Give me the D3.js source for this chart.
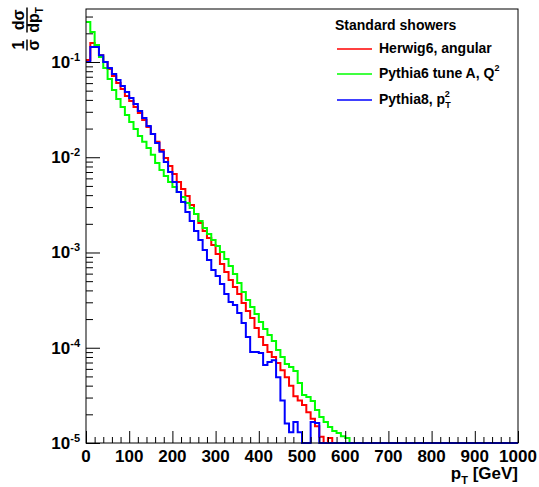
<!DOCTYPE html>
<html>
<head>
<meta charset="utf-8">
<script src="https://cdn.jsdelivr.net/npm/d3@7"></script>
<style>
  body { margin: 0; background: #fff; }
  svg { display: block; }
  text { font-family: "Liberation Sans", Arial, Helvetica, sans-serif; font-weight: bold; fill: #000; }
</style>
</head>
<body>
<svg id="chart" width="539" height="487"></svg>
<script>
// histogram binning (GeV)
const ptMin = 0, ptMax = 1000, binWidth = 10;

// 1/sigma dsigma/dpT per 10 GeV bin, bins after the listed ones are empty
const herwig = [0.105, 0.158, 0.151, 0.118, 0.100, 0.0845, 0.0713, 0.0602, 0.0521, 0.044,
  0.039, 0.0337, 0.0291, 0.0246, 0.0208, 0.0175, 0.0145, 0.0119, 0.00983, 0.00809,
  0.00667, 0.0055, 0.00464, 0.00392, 0.00315, 0.00254, 0.00204, 0.00168, 0.00142, 0.0012,
  0.000964, 0.000757, 0.000624, 0.000514, 0.000434, 0.000367, 0.000295, 0.000243, 0.000205, 0.000161,
  0.00013, 0.000107, 9.0e-5, 8.0e-5, 6.9e-5, 5.8e-5, 4.9e-5, 4.0e-5, 3.1e-5, 2.8e-5,
  2.5e-5, 2.1e-5, 1.8e-5, 1.5e-5, 1.16e-5, 0, 1.13e-5];

const pythia6 = [0.263, 0.207, 0.151, 0.113, 0.0865, 0.0663, 0.0508, 0.0409, 0.0337, 0.0278,
  0.0234, 0.0198, 0.0167, 0.0145, 0.0125, 0.0106, 0.0087, 0.00735, 0.00635, 0.0055,
  0.00487, 0.00432, 0.00383, 0.00331, 0.00293, 0.00254, 0.00214, 0.00181, 0.00156, 0.00135,
  0.00117, 0.00101, 0.000855, 0.000721, 0.000595, 0.000479, 0.000385, 0.000317, 0.000268, 0.000226,
  0.000186, 0.000157, 0.000136, 0.000118, 9.47e-5, 8.0e-5, 6.75e-5, 6.28e-5, 5.7e-5, 4.27e-5,
  3.19e-5, 3.04e-5, 2.76e-5, 2.22e-5, 1.87e-5, 1.66e-5, 1.47e-5, 1.34e-5, 1.27e-5, 1.18e-5,
  1.13e-5];

const pythia8 = [0.1, 0.144, 0.144, 0.118, 0.1, 0.0865, 0.0748, 0.0647, 0.056, 0.0484,
  0.0419, 0.0362, 0.0306, 0.0258, 0.0213, 0.0175, 0.0141, 0.0114, 0.00891, 0.0070,
  0.0055, 0.00432, 0.00339, 0.00266, 0.00214, 0.00168, 0.00135, 0.00106, 0.000834, 0.000655,
  0.000566, 0.000467, 0.000367, 0.000302, 0.000281, 0.000232, 0.000182, 0.00013, 9.0e-5, 9.0e-5,
  8.8e-5, 6.6e-5, 7.1e-5, 7.4e-5, 4.9e-5, 2.8e-5, 1.6e-5, 1.3e-5, 1.66e-5, 1.3e-5,
  0, 0, 1.66e-5, 1.62e-5];

const series = [
  { name: "Herwig6, angular", values: herwig, color: "#ff0000" },
  { name: "Pythia6 tune A, Q", sup: "2", values: pythia6, color: "#00ff00" },
  { name: "Pythia8, p", sub: "T", sup: "2", values: pythia8, color: "#0000ff" }
];

const yMin = 1e-5, yMax = 0.36;
const decades = [1e-5, 1e-4, 1e-3, 1e-2, 1e-1];
const decadeExp = ["-5", "-4", "-3", "-2", "-1"];
const xMajor = [0, 100, 200, 300, 400, 500, 600, 700, 800, 900, 1000];

const svg = d3.select("#chart");
const LEFT = 86, RIGHT = 518, TOP = 9, BOTTOM = 443;

const x = d3.scaleLinear().domain([ptMin, ptMax]).range([LEFT, RIGHT]);
const y = d3.scaleLog().domain([yMin, yMax]).range([BOTTOM, TOP]);

svg.append("defs").append("clipPath").attr("id", "plotclip")
  .append("rect").attr("x", LEFT).attr("y", TOP - 1)
  .attr("width", RIGHT - LEFT).attr("height", BOTTOM - TOP + 2);

// histograms as step outlines
function stepPath(values) {
  const nBins = Math.round((ptMax - ptMin) / binWidth);
  const yOf = v => (v > yMin ? y(v) : BOTTOM);
  let d = "";
  for (let i = 0; i < nBins; i++) {
    const v = i < values.length ? values[i] : 0;
    const x0 = x(ptMin + i * binWidth), x1 = x(ptMin + (i + 1) * binWidth);
    const yy = yOf(v);
    d += (i === 0 ? "M" : "L") + x0 + "," + yy + "L" + x1 + "," + yy;
  }
  return d;
}

const plot = svg.append("g").attr("clip-path", "url(#plotclip)");
series.forEach(s => {
  plot.append("path")
    .attr("d", stepPath(s.values))
    .attr("fill", "none")
    .attr("stroke", s.color)
    .attr("stroke-width", 2);
});

// frame
svg.append("rect")
  .attr("x", LEFT).attr("y", TOP)
  .attr("width", RIGHT - LEFT).attr("height", BOTTOM - TOP)
  .attr("fill", "none").attr("stroke", "#000").attr("stroke-width", 1);

// y axis ticks (inside)
const yMinor = [];
decades.forEach(dec => {
  for (let m = 2; m <= 9; m++) if (dec * m <= yMax) yMinor.push(dec * m);
});
const yAxisMinor = d3.axisLeft(y).tickValues(yMinor).tickSize(-7).tickFormat("");
const yAxisMajor = d3.axisLeft(y).tickValues(decades).tickSize(-14).tickFormat("");
[yAxisMinor, yAxisMajor].forEach(ax => {
  const g = svg.append("g").attr("transform", `translate(${LEFT},0)`).call(ax);
  g.select(".domain").remove();
  g.selectAll("line").attr("stroke", "#000");
});

decades.forEach((dec, i) => {
  const t = svg.append("text")
    .attr("x", 80).attr("y", y(dec) + 6)
    .attr("text-anchor", "end")
    .style("font-size", "17px");
  t.append("tspan").text("10");
  t.append("tspan").attr("dy", -7).style("font-size", "11px").text(decadeExp[i]);
});

// x axis ticks (inside)
const xMinor = d3.range(ptMin, ptMax + 1, 20).filter(v => v % 100 !== 0);
const xAxisMinor = d3.axisBottom(x).tickValues(xMinor).tickSize(-6).tickFormat("");
const xAxisMajor = d3.axisBottom(x).tickValues(xMajor).tickSize(-12).tickFormat("");
[xAxisMinor, xAxisMajor].forEach(ax => {
  const g = svg.append("g").attr("transform", `translate(0,${BOTTOM})`).call(ax);
  g.select(".domain").remove();
  g.selectAll("line").attr("stroke", "#000");
});

svg.selectAll(".xlab").data(xMajor).enter().append("text")
  .attr("class", "xlab")
  .attr("x", d => x(d)).attr("y", 462)
  .attr("text-anchor", "middle")
  .style("font-size", "17px")
  .text(d => d);

// x title
const xt = svg.append("text").attr("x", RIGHT).attr("y", 479)
  .attr("text-anchor", "end").style("font-size", "17px");
xt.append("tspan").text("p");
xt.append("tspan").attr("dy", 5).style("font-size", "11px").text("T");
xt.append("tspan").attr("dy", -5).text(" [GeV]");

// y title: (1/sigma) (dsigma/dpT), rotated
const yt = svg.append("g").attr("transform", "translate(27,0) rotate(-90)");
function fraction(cx, num, den, barLen) {
  yt.append("line").attr("x1", -cx - barLen / 2).attr("x2", -cx + barLen / 2)
    .attr("y1", 0).attr("y2", 0).attr("stroke", "#000").attr("stroke-width", 1.5);
  const n = yt.append("text").attr("x", -cx).attr("y", -3)
    .attr("text-anchor", "middle").style("font-size", "16px");
  num(n);
  const d = yt.append("text").attr("x", -cx).attr("y", 12)
    .attr("text-anchor", "middle").style("font-size", "16px");
  den(d);
}
fraction(45, t => t.text("1"), t => t.text("σ"), 11);
fraction(20, t => t.text("dσ"), t => {
  t.append("tspan").text("dp");
  t.append("tspan").attr("dy", 4).style("font-size", "10px").text("T");
}, 25);

// legend
svg.append("text").attr("x", 335).attr("y", 30)
  .style("font-size", "14px").text("Standard showers");
const legendY = [49, 74, 100];
series.forEach((s, i) => {
  const ly = legendY[i];
  svg.append("line")
    .attr("x1", 337).attr("x2", 372).attr("y1", ly).attr("y2", ly)
    .attr("stroke", s.color).attr("stroke-width", 1.5);
  const t = svg.append("text").attr("x", 379).attr("y", ly + 4)
    .style("font-size", "14px");
  t.append("tspan").text(s.name);
  if (s.sub) {
    t.append("tspan").attr("dy", 4).style("font-size", "9px").text(s.sub);
    t.append("tspan").attr("dx", -6).attr("dy", -11).style("font-size", "9px").text(s.sup);
  } else if (s.sup) {
    t.append("tspan").attr("dy", -7).style("font-size", "9px").text(s.sup);
  }
});
</script>
</body>
</html>
